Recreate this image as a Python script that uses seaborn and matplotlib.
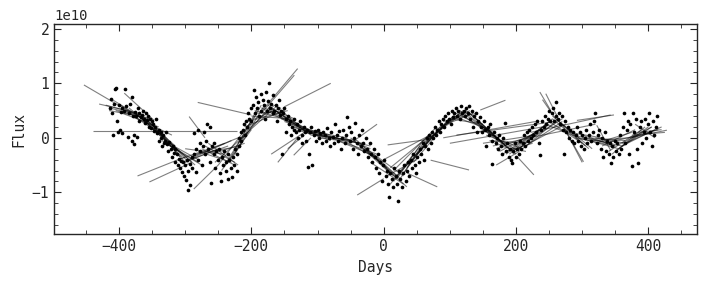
import numpy as np
import pandas as pd
import matplotlib
matplotlib.use('Agg')
import matplotlib.pyplot as plt
from matplotlib.collections import LineCollection
from matplotlib.ticker import MultipleLocator
import seaborn as sns

# observed points (days, flux in units of 1e10)
days = [
    -414, -412, -410, -409, -408, -406, -404, -403, -402, -400, -398, -397, -396, -395,
    -393, -391, -389, -387, -385, -383, -381, -380, -379, -378, -377, -376, -374, -373,
    -372, -370, -369, -367, -365, -364, -362, -360, -359, -357, -356, -355,
    -353, -352, -350, -348, -347, -345, -344, -342, -340, -339, -337, -336, -335,
    -333, -332, -330, -329, -327, -326, -324, -322, -320, -319, -317, -316, -315,
    -313, -311, -310, -308, -306, -305, -303, -302, -300, -298, -297, -296, -295,
    -293, -292, -290, -289, -287, -286, -284, -283, -281, -280, -278, -277, -275,
    -273, -272, -270, -268, -267, -265, -263, -262, -261, -259, -257, -256, -255,
    -253, -251, -249, -248, -246, -244, -243, -241, -239, -238, -236, -235,
    -233, -231, -229, -228, -226, -224, -222, -221, -219, -218, -216, -215,
    -213, -211, -210, -208, -206, -205, -203, -201, -200, -198, -196, -195,
    -193, -192, -190, -188, -186, -185, -183, -181, -180, -178, -176, -175, -173,
    -172, -170, -168, -167, -165, -163, -161, -160, -158, -157, -155,
    -153, -152, -150, -148, -147, -145, -143, -141, -140, -138, -136, -135,
    -133, -131, -130, -128, -126, -124, -123, -121, -119, -118, -116, -115, -113,
    -111, -110, -108, -106, -104, -102, -100, -98, -96,
    -93, -91, -89, -87, -85, -83, -81, -79, -77, -75,
    -73, -71, -69, -67, -65, -63, -61, -59, -57, -55,
    -53, -51, -49, -47, -45, -43, -41, -39, -37, -35,
    -33, -31, -29, -27, -25, -23, -21, -19, -17, -15,
    -13, -11, -9, -7, -5, -3, -1, 1, 3, 5,
    7, 8, 10, 12, 14, 16, 18, 20, 21, 23, 25,
    27, 29, 31, 33, 35, 37, 39, 41, 43, 45,
    47, 49, 51, 53, 55, 57, 59, 61, 63, 65,
    67, 69, 71, 73, 75, 77, 79, 81, 83, 85,
    87, 89, 91, 93, 95, 97, 99, 101, 103, 105,
    107, 109, 111, 113, 115, 117, 119, 121, 123, 125,
    127, 129, 131, 133, 135, 137, 139, 141, 143, 145,
    147, 149, 151, 153, 155, 157, 159, 161, 163, 164,
    167, 169, 171, 173, 175, 177, 179, 181, 183, 185,
    187, 189, 191, 193, 194, 196, 198, 200, 202, 204,
    206, 208, 210, 212, 214, 216, 218, 220, 222, 224,
    226, 228, 230, 232, 234, 236, 238, 240, 242, 244,
    246, 248, 250, 252, 254, 256, 258, 260, 261, 263, 265,
    267, 269, 271, 272, 274, 276, 278, 280, 282, 284,
    286, 288, 290, 292, 294, 296, 298, 300, 302, 304,
    306, 308, 310, 312, 314, 316, 318, 320, 322, 324,
    326, 328, 330, 332, 334, 336, 338, 340, 342, 343, 345,
    347, 349, 351, 353, 355, 357, 359, 361, 363, 365,
    367, 369, 371, 373, 375, 377, 379, 381, 383, 385,
    387, 389, 391, 393, 395, 397, 399, 401, 403, 405, 407, 409, 411, 413,
]
flux = [
    0.55, 0.72, 0.45, 0.05, 0.62, 0.90, 0.92, 0.30, 0.11, 0.60, 0.15, 0.48, 0.08, 0.55,
    0.50, 0.90, 0.58, 0.02, 0.45, 0.62, -0.05, 0.75, 0.40, 0.05, -0.12, 0.48, 0.40, 0.02,
    0.55, 0.45, 0.30, 0.38, 0.42, 0.50, 0.35, 0.28, 0.45, 0.32, 0.40, 0.20,
    0.35, 0.18, 0.30, 0.25, 0.12, 0.20, 0.35, 0.08, 0.15, -0.05, 0.10, 0.00, -0.15,
    0.05, -0.10, -0.05, 0.10, -0.12, -0.25, -0.08, -0.20, -0.35, -0.15, -0.28, -0.45, -0.20,
    -0.30, -0.50, -0.38, -0.55, -0.42, -0.62, -0.45, -0.70, -0.50, -0.78, -0.40, -0.96, -0.60,
    -0.48, -0.87, -0.35, -0.55, 0.08, -0.30, -0.62, -0.20, -0.40, 0.15, -0.10, -0.25, -0.50,
    -0.15, 0.10, -0.30, -0.05, 0.25, -0.20, 0.20, -0.45, -0.83, -0.15, -0.30, -0.10, -0.55,
    -0.25, -0.40, -0.20, -0.65, -0.80, -0.35, -0.50, -0.25, -0.60, -0.45, -0.30, -0.75,
    -0.40, -0.55, -0.72, -0.35, -0.50, -0.20, -0.30, -0.60, 0.00, -0.15, 0.10, -0.05,
    0.15, 0.25, 0.05, 0.30, 0.20, 0.45, 0.35, 0.55, 0.30, 0.60, 0.88, 0.45,
    0.75, 0.55, 0.65, 0.40, 0.80, 0.50, 0.70, 0.60, 0.35, 0.85, 0.50, 0.68, 1.00,
    0.55, 0.62, 0.45, 0.78, 0.50, 0.60, 0.30, 0.55, 0.70, 0.42, 0.50,
    -0.29, 0.45, 0.55, 0.35, 0.10, 0.40, 0.25, 0.30, 0.05, 0.20, 0.35, 0.15,
    0.10, 0.25, 0.00, 0.15, 0.30, 0.05, -0.10, 0.20, 0.10, -0.05, 0.15, -0.53, -0.30,
    0.10, 0.20, -0.49, 0.05, 0.12, -0.05, 0.15, 0.00, 0.08,
    -0.10, 0.10, 0.05, -0.05, 0.18, 0.00, -0.15, 0.10, 0.02, -0.10,
    0.25, 0.05, -0.05, 0.12, -0.20, 0.00, 0.15, -0.10, 0.05, 0.39,
    0.20, -0.05, 0.10, -0.20, 0.00, 0.28, -0.10, -0.30, 0.05, -0.15,
    0.15, -0.10, -0.25, 0.00, -0.20, -0.35, -0.10, -0.30, -0.45, -0.20,
    -0.35, -0.55, -0.30, -0.65, -0.45, -0.80, -0.50, -0.40, -0.70, -0.60,
    -0.85, -1.08, -0.65, -0.75, -0.90, -0.55, -0.70, -0.85, -1.16, -0.60, -0.75,
    -0.90, -0.65, -0.50, -0.80, -0.60, -0.45, -0.70, -0.40, -0.55, -0.30,
    -0.50, -0.65, -0.35, -0.45, -0.20, -0.30, -0.10, -0.40, -0.15, 0.00,
    -0.20, 0.05, -0.10, 0.10, 0.00, 0.20, 0.05, 0.15, 0.30, 0.10,
    0.25, 0.35, 0.20, 0.40, 0.30, 0.45, 0.35, 0.25, 0.50, 0.38,
    0.45, 0.55, 0.40, 0.50, 0.35, 0.58, 0.45, 0.50, 0.40, 0.55,
    0.45, 0.58, 0.35, 0.50, 0.20, 0.40, 0.45, 0.10, 0.30, 0.38,
    0.20, 0.10, 0.30, 0.15, -0.15, 0.20, 0.05, 0.25, -0.05, -0.48,
    0.10, -0.10, 0.00, -0.20, 0.05, -0.15, -0.30, 0.00, 0.28, -0.25,
    -0.10, -0.35, -0.20, -0.40, -0.47, -0.25, -0.10, -0.35, -0.20, -0.30,
    -0.05, -0.20, -0.10, 0.05, -0.15, 0.10, -0.05, 0.15, 0.00, 0.20,
    0.05, 0.25, 0.10, 0.30, -0.10, -0.32, 0.15, 0.30, 0.20, 0.40,
    0.25, 0.35, 0.50, 0.30, 0.45, 0.55, 0.30, 0.40, 0.65, 0.35, 0.45,
    0.25, 0.40, 0.15, -0.29, 0.30, 0.10, 0.20, 0.00, 0.15, -0.05,
    0.10, -0.10, 0.05, 0.20, -0.05, 0.10, -0.15, 0.05, -0.20, 0.00,
    0.15, -0.10, 0.05, 0.25, -0.05, 0.10, 0.30, 0.45, -0.10, 0.05,
    0.15, -0.20, 0.00, -0.35, 0.10, -0.25, -0.05, -0.30, -0.10, -0.46, -0.15,
    -0.35, -0.05, -0.25, -0.10, -0.30, 0.05, -0.20, 0.20, 0.46, -0.10,
    0.15, 0.30, -0.30, 0.25, -0.51, 0.45, 0.10, 0.35, -0.20, -0.47,
    0.20, 0.30, -0.10, 0.10, 0.35, 0.00, 0.25, 0.46, 0.10, -0.15, 0.30, 0.05, 0.20, 0.40,
]

# local linear fits: segment start / end (days, flux in 1e10)
seg_x0 = [
    -453, -430, -440, -420, -415, -410, -392, -395, -385, -380, -370, -365, -360, -350,
    -345, -340, -335, -330, -372, -354, -294, -287, -281, -310, -305, -300, -295, -290,
    -285, -280, -275, -270, -300, -265, -260, -255, -250, -245, -240, -235, -230, -225,
    -220, -215, -210, -205, -200, -195, -183, -185, -150, -185, -180, -175, -170, -165,
    -160, -155, -150, -145, -140, -135, -160, -170, -136, -145, -125, -120, -110, -100,
    -90, -80, -70, -50, -60, -50, -45, -40, -35, -30, -40, 6, 0, 10, 15, 36, 71, -20, -10,
    10, 15, 20, 25, 30, 35, 40, 45, 50, 55, 60, 70, 80, 90, 100, 105, 110, 115, 120, 125,
    130, 135, 140, 146, 90, 100, 110, 150, 145, 150, 155, 160, 165, 170, 175, 180, 185,
    190, 195, 200, 202, 170, 210, 215, 220, 236, 245, 240, 250, 255, 260, 265, 270, 277,
    280, 285, 290, 292, 295, 300, 310, 315, 320, 330, 340, 345, 350, 355, 360, 365, 370,
    375, 380, 322, 222, 220,
    -415, -405, -398, -390, -375, -358, -340, -325,
    -205, -195, -190, -175, -165,
    -25, -15, 5, 20, 45, 65, 85, 115, 140,
    175, 185, 205, 225, 245, 255,
    300, 320, 335, 360, 375, 385,
    -130, -100, -60,
]
seg_y0 = [
    0.97, 0.62, 0.13, 0.60, 0.50, 0.70, 0.82, 0.45, 0.55, 0.40, 0.45, 0.35, 0.30, 0.25,
    0.15, 0.10, -0.05, -0.10, -0.70, -0.81, 0.39, -0.94, 0.65, -0.40, -0.45, -0.45, -0.40, -0.35,
    -0.30, -0.25, -0.20, -0.15, -0.20, -0.10, -0.30, -0.45, -0.50, -0.60, -0.50, -0.45, -0.40, -0.30,
    -0.10, 0.00, 0.20, 0.30, 0.40, 0.50, 0.51, 0.45, 0.57, 0.55, 0.55, 0.60, 0.55, 0.50,
    0.45, 0.35, 0.30, 0.25, 0.20, 0.15, -0.45, -0.30, -0.32, -0.20, 0.15, 0.10, 0.05, 0.00,
    0.05, 0.00, -0.05, -0.10, -0.05, 0.00, -0.05, -0.05, -0.10, -0.20, -1.05, -0.13, -0.40, -0.55, -0.60, -0.65, -0.41, -0.45, -0.40,
    -0.85, -0.80, -0.75, -0.75, -0.65, -0.55, -0.45, -0.35, -0.30, -0.20, -0.10, 0.00, 0.15, 0.30, 0.35, 0.40, 0.45, 0.45, 0.50, 0.50,
    0.45, 0.40, 0.30, 0.51, 0.00, -0.10, 0.05, -0.10, 0.20, 0.15, 0.05, -0.05, -0.15, -0.20, -0.25, -0.30, -0.30,
    -0.30, -0.30, -0.25, -0.35, -0.50, -0.20, -0.15, -0.10, 0.84, 0.81, 0.70, 0.30, 0.35, 0.35, 0.30, 0.25, 0.08,
    0.10, 0.05, 0.00, 0.32, 0.00, 0.00, 0.00, -0.05, -0.10, -0.15, -0.25, -0.30, -0.25, -0.20, -0.15, -0.10, 0.00,
    0.05, 0.25, 0.23, 0.10, 0.00,
    0.55, 0.50, 0.60, 0.50, 0.45, 0.35, 0.15, -0.10,
    0.15, 0.35, 0.45, 0.55, 0.60,
    -0.20, -0.30, -0.70, -0.70, -0.45, -0.05, 0.20, 0.50, 0.35,
    -0.15, -0.25, -0.20, 0.00, 0.25, 0.40,
    0.05, 0.00, -0.10, -0.10, 0.00, 0.10,
    0.20, 0.05, 0.00,
]
seg_x1 = [
    -380, -370, -221, -360, -350, -350, -347, -340, -330, -320, -315, -310, -305, -300,
    -290, -285, -280, -275, -300, -290, -270, -250, -200, -240, -235, -250, -230, -220,
    -215, -230, -225, -225, -240, -220, -210, -205, -200, -200, -195, -190, -185, -180,
    -170, -160, -150, -145, -140, -135, -130, -135, -80, -130, -120, -115, -110, -100,
    -95, -90, -85, -80, -70, -60, -130, -120, -110, -120, -55, -50, -40, -30,
    -20, -10, -10, -10, 0, 5, 10, 15, 20, 20, 0, 61, 70, 75, 80, 81, 129, 30, 35,
    45, 55, 60, 65, 75, 85, 95, 100, 105, 110, 120, 125, 130, 140, 150, 160, 165, 170, 175, 180,
    185, 190, 195, 184, 230, 240, 260, 230, 200, 205, 210, 215, 220, 225, 230, 235, 240,
    245, 250, 255, 227, 205, 265, 270, 275, 252, 262, 260, 300, 305, 310, 315, 300, 302,
    330, 345, 350, 348, 355, 360, 365, 370, 375, 380, 390, 395, 400, 405, 410, 420, 428,
    425, 410, 343, 343, 320,
    -365, -355, -340, -335, -325, -308, -295, -280,
    -165, -155, -150, -135, -125,
    25, 30, 50, 65, 90, 115, 135, 160, 185,
    215, 225, 250, 270, 285, 295,
    350, 365, 385, 405, 415, 420,
    -80, -50, -20,
]
seg_y1 = [
    0.45, 0.45, 0.13, 0.40, 0.35, 0.25, 0.32, 0.20, 0.00, 0.05, -0.15, -0.25, -0.35, -0.45,
    -0.45, -0.50, -0.45, -0.50, -0.35, -0.45, 0.00, -0.50, 0.42, -0.10, -0.15, -0.20, -0.05, 0.00,
    -0.15, -0.45, -0.50, -0.45, -0.30, -0.50, -0.10, 0.10, 0.30, 0.15, 0.40, 0.55, 0.60, 0.60,
    0.60, 0.60, 0.50, 0.50, 0.35, 0.30, 1.27, 1.15, 1.00, 0.20, 0.15, 0.10, 0.05, 0.05,
    0.00, 0.05, 0.00, -0.05, 0.00, -0.05, 0.00, 0.10, 0.00, 0.05, 0.00, -0.05, -0.05, -0.10,
    -0.15, -0.30, -0.35, 0.25, -0.45, -0.55, -0.65, -0.70, -0.75, -0.70, -0.75, -0.04, 0.05, 0.10, 0.20, -0.90, -0.59, -0.85, -0.90,
    -0.30, -0.15, -0.05, 0.00, 0.10, 0.20, 0.30, 0.35, 0.40, 0.45, 0.50, 0.50, 0.50, 0.45, 0.25, 0.15, 0.10, 0.00, -0.05, -0.10,
    -0.15, -0.20, -0.25, 0.69, 0.30, 0.20, 0.30, 0.05, -0.30, -0.25, -0.20, -0.10, 0.00, 0.05, 0.10, 0.15, 0.20,
    0.25, 0.30, 0.35, -0.68, -0.25, 0.35, 0.30, 0.25, 0.51, 0.40, 0.35, -0.10, -0.15, -0.20, -0.20, -0.45, -0.44,
    0.00, -0.10, -0.15, 0.42, -0.20, -0.15, -0.05, 0.00, 0.10, 0.15, 0.15, 0.20, 0.20, 0.20, 0.15, 0.20, 0.14,
    0.10, 0.00, -0.23, 0.42, 0.25,
    0.40, 0.35, 0.15, 0.05, -0.10, -0.35, -0.45, -0.40,
    0.60, 0.55, 0.50, 0.35, 0.20,
    -0.75, -0.70, -0.40, -0.10, 0.20, 0.45, 0.45, 0.10, -0.15,
    -0.25, -0.10, 0.25, 0.35, 0.05, 0.00,
    -0.15, -0.10, 0.05, 0.20, 0.15, 0.15,
    0.05, -0.05, -0.20,
]

points = pd.DataFrame({'Days': days, 'Flux': np.array(flux) * 1e10})
segments = [[(a, b * 1e10), (c, d * 1e10)] for a, b, c, d in zip(seg_x0, seg_y0, seg_x1, seg_y1)]

sns.set_style('ticks')
plt.rcParams['font.family'] = ['DejaVu Sans Mono']
plt.rcParams['font.size'] = 10

fig = plt.figure(figsize=(7.03, 2.85), dpi=100)
ax = fig.add_axes([0.077, 0.178, 0.914, 0.738])

sns.scatterplot(data=points, x='Days', y='Flux', color='black', s=7, linewidth=0, ax=ax, zorder=3)
ax.add_collection(LineCollection(segments, colors='black', alpha=0.5, linewidths=0.8, zorder=2))

ax.set_xlim(-498, 473)
ax.set_ylim(-1.77e10, 2.09e10)
ax.xaxis.set_major_locator(MultipleLocator(200))
ax.xaxis.set_minor_locator(MultipleLocator(50))
ax.yaxis.set_major_locator(MultipleLocator(1e10))
ax.yaxis.set_minor_locator(MultipleLocator(0.2e10))
ax.tick_params(which='both', direction='in', top=True, right=True, labelsize=10.5)
ax.tick_params(which='major', length=5)
ax.tick_params(which='minor', length=3)
ax.set_xlabel('Days', fontsize=10.5)
ax.set_ylabel('Flux', fontsize=10.5)
for s in ax.spines.values():
    s.set_linewidth(1.0)

fig.savefig('out.png', dpi=100)
